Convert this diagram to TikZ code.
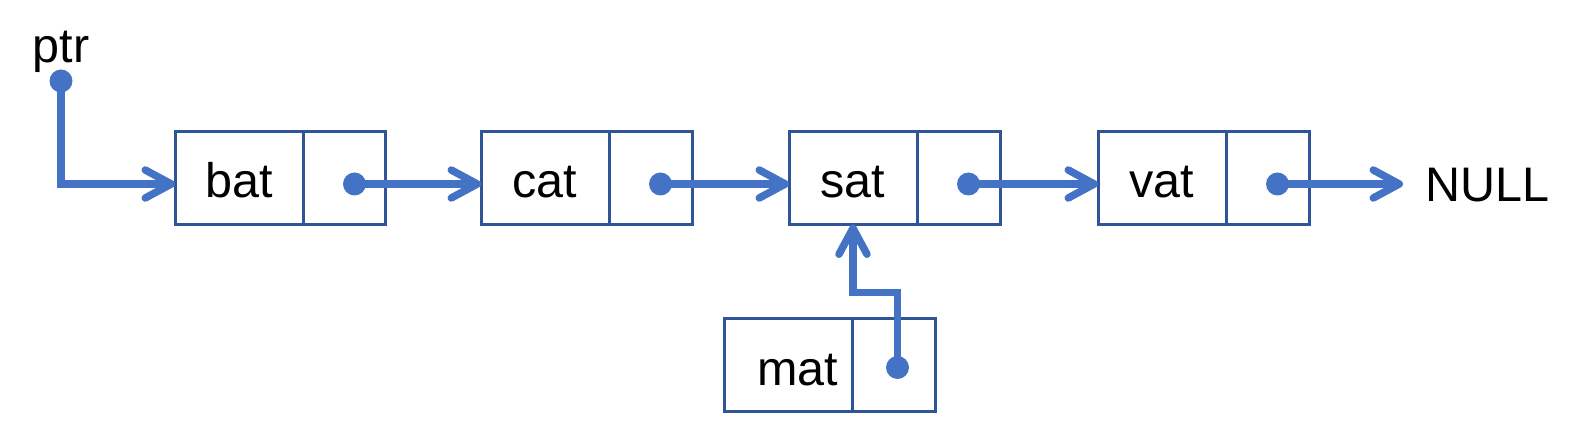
\documentclass[tikz,border=0pt]{standalone}
\usepackage{fontspec}
\setmainfont{Liberation Sans}
\usepackage{tikz}
\usetikzlibrary{positioning}
\usetikzlibrary{arrows.meta}
\usepackage{xcolor}
\definecolor{linkblue}{HTML}{4472C4}
\definecolor{boxblue}{HTML}{2F5597}

\begin{document}
\begin{tikzpicture}[x=0.1mm,y=-0.1mm,
  font=\fontsize{13.8pt}{16pt}\selectfont,
  datbox/.style={draw=boxblue, line width=0.3mm, minimum width=12.8mm,
    minimum height=9.3mm, inner sep=0pt, outer sep=0pt,
    text height=4mm, text depth=0pt},
  ptrbox/.style={draw=boxblue, line width=0.3mm, minimum width=8.3mm,
    minimum height=9.3mm, inner sep=0pt, outer sep=0pt},
  link/.style={draw=linkblue, line width=0.75mm,
    -{Straight Barb[length=2.6mm,width=2.8mm,round]}}]
\useasboundingbox (0,0) rectangle (1582,427);
% the list
\node[datbox] (bat) at (239,178) {bat};
\node[ptrbox, right=0pt of bat] (batp) {};
\node[datbox] (cat) at (545,178) {cat};
\node[ptrbox, right=0pt of cat] (catp) {};
\node[datbox] (sat) at (853,178) {sat};
\node[ptrbox, right=0pt of sat] (satp) {};
\node[datbox] (vat) at (1162,178) {vat};
\node[ptrbox, right=0pt of vat] (vatp) {};
\node[datbox] (mat) at (788,365.5) {\hspace{2mm}mat};
\node[ptrbox, right=0pt of mat] (matp) {};
\node[anchor=base, inner sep=0pt] (ptr) at (61,63) {ptr};
\node[anchor=base west, inner sep=0pt] (null) at (1425,202) {NULL};
% pointer dots
\coordinate (ptrdot) at (61,81);
\coordinate (batdot) at ([shift={(10,6)}]batp.center);
\coordinate (catdot) at ([shift={(10,6)}]catp.center);
\coordinate (satdot) at ([shift={(10,6)}]satp.center);
\coordinate (vatdot) at ([shift={(10,6)}]vatp.center);
\coordinate (matdot) at ([shift={(4,2)}]matp.center);
\draw[link] (ptrdot) |- (batdot -| bat.west);
\draw[link] (batdot) -- (batdot -| cat.west);
\draw[link] (catdot) -- (catdot -| sat.west);
\draw[link] (satdot) -- (satdot -| vat.west);
\draw[link, shorten >=2.2mm] (vatdot) -- (vatdot -| null.west);
\draw[link] (matdot) -- ++(0,-75) -| (sat.south);
\fill[linkblue] (ptrdot) circle (1.15mm);
\fill[linkblue] (batdot) circle (1.15mm);
\fill[linkblue] (catdot) circle (1.15mm);
\fill[linkblue] (satdot) circle (1.15mm);
\fill[linkblue] (vatdot) circle (1.15mm);
\fill[linkblue] (matdot) circle (1.15mm);
\end{tikzpicture}
\end{document}
